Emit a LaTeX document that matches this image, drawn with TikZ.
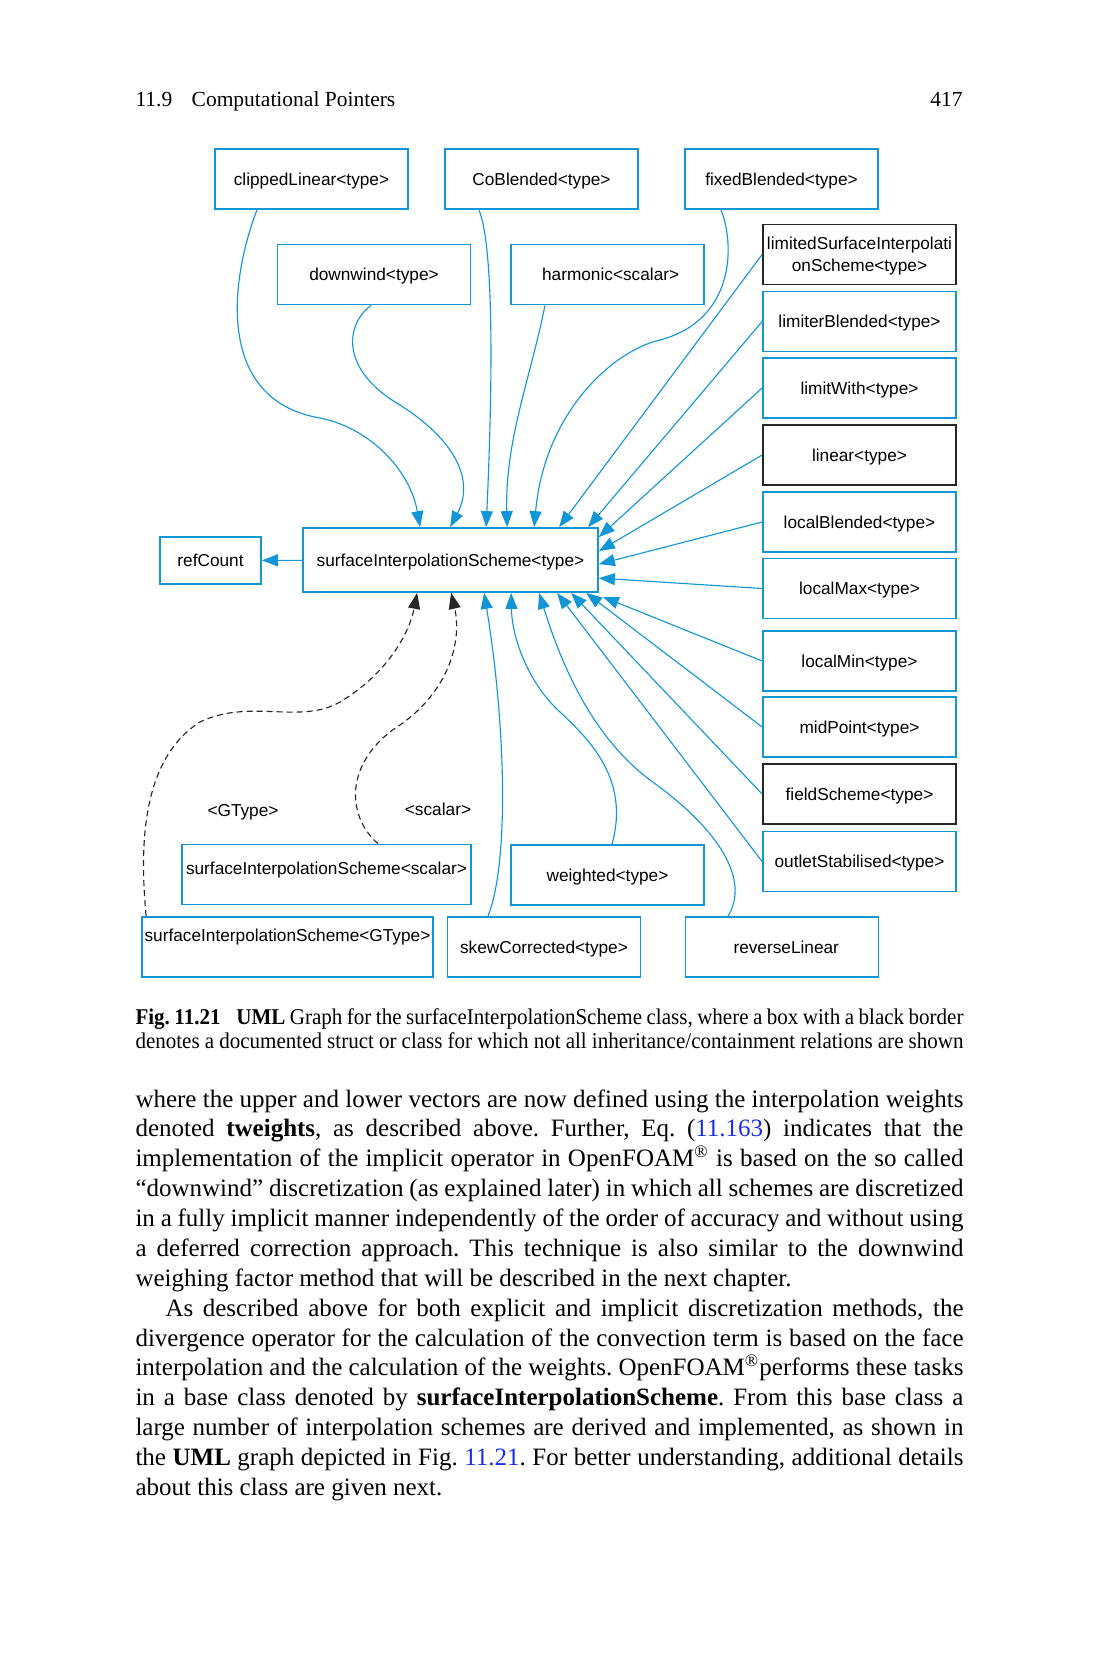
\documentclass[tikz,border=0pt]{standalone}
\usepackage{fontspec}
\setmainfont{Liberation Serif}
\newfontfamily\umlfont{Liberation Sans}
\newfontfamily\capfont[FakeStretch=0.935]{Liberation Serif}
\usepackage{tikz}
\usetikzlibrary{arrows.meta,calc}
\definecolor{docblue}{RGB}{18,150,214}
\definecolor{linkblue}{RGB}{25,45,235}
\frenchspacing

\begin{document}
\begin{tikzpicture}[x=0.4pt, y=-0.4pt, every node/.style={inner sep=0pt},
    umlbox/.style={draw=docblue, line width=0.7pt, fill=white, align=center,
        font={\umlfont\fontsize{6.9}{8.8}\selectfont}, text depth=0pt,
        minimum width=77.2pt, minimum height=24pt},
    docbox/.style={umlbox, draw=black!85},
    inherit/.style={docblue, line width=0.45pt, -{Triangle[length=6.4pt, width=4.8pt]}},
    usage/.style={black!85, line width=0.45pt, dash pattern=on 2.4pt off 1.6pt,
        -{Triangle[length=6.4pt, width=4.8pt]}}]
    \fill[white] (0,0) rectangle (1099,1666);
    \path[use as bounding box] (0,0) rectangle (1099,1666);

    % Running head
    \node[anchor=base west, font=\fontsize{8.6}{11}\selectfont] (runhead) at (135,106) {11.9\hspace{0.9em}Computational Pointers};
    \node[anchor=base east, font=\fontsize{8.6}{11}\selectfont] (pageno) at (963,106) {417};

    % Top row
    \node[umlbox] (clipped) at (311.5,179) {clippedLinear<type>};
    \node[umlbox] (coblended) at (541.5,179) {CoBlended<type>};
    \node[umlbox] (fixed) at (781.5,179) {fixedBlended<type>};
    \node[umlbox] (downwind) at (374,274.5) {downwind<type>};
    \node[umlbox] (harmonic) at (607.5,274.5) {\hspace*{2.5pt}harmonic<scalar>};

    % Right column
    \node[docbox, text depth=-1.2pt] (limited) at (859.5,254.5) {limitedSurfaceInterpolati\\onScheme<type>};
    \node[umlbox] (limiter) at (859.5,321.5) {limiterBlended<type>};
    \node[umlbox] (limitwith) at (859.5,388) {limitWith<type>};
    \node[docbox] (linear) at (859.5,455) {linear<type>};
    \node[umlbox] (localblended) at (859.5,522) {localBlended<type>};
    \node[umlbox] (localmax) at (859.5,588.5) {localMax<type>};
    \node[umlbox] (localmin) at (859.5,661) {localMin<type>};
    \node[umlbox] (midpoint) at (859.5,727) {midPoint<type>};
    \node[docbox] (fieldscheme) at (859.5,794) {fieldScheme<type>};
    \node[umlbox] (outlet) at (859.5,861.5) {outletStabilised<type>};

    % Base class
    \node[umlbox, minimum width=118pt, minimum height=25.6pt] (scheme) at (450.5,560) {surfaceInterpolationScheme<type>};
    \node[umlbox, minimum width=40.4pt, minimum height=18.8pt] (refcount) at (210.5,560.5) {refCount};

    % Bottom rows
    \node[umlbox, minimum width=115.6pt] (sclr) at (326.5,874.5) {\raisebox{5pt}{surfaceInterpolationScheme<scalar>}};
    \node[umlbox] (weighted) at (607.5,875) {weighted<type>};
    \node[umlbox, minimum width=116.4pt] (gtype) at (287.5,947) {\raisebox{9.5pt}{surfaceInterpolationScheme<GType>}};
    \node[umlbox] (skew) at (544,947) {skewCorrected<type>};
    \node[umlbox] (reverse) at (782,947) {\hspace*{3.4pt}reverseLinear};

    % Template labels
    \node[font={\umlfont\fontsize{6.9}{8.8}\selectfont}] (glabel) at (243,812) {<GType>};
    \node[font={\umlfont\fontsize{6.9}{8.8}\selectfont}] (slabel) at (438,809) {<scalar>};

    % Inheritance from above
    \draw[inherit] ($(clipped.south)+(-54.5,0)$) .. controls (230,280) and (215,400) .. (320,418)
        .. controls (370,428) and (410,470) .. ($(scheme.north west)+(118,0)$);
    \draw[inherit] ($(downwind.south)+(-3,0)$) .. controls (345,325) and (340,370) .. (400,405)
        .. controls (455,440) and (475,480) .. ($(scheme.north west)+(148,0)$);
    \draw[inherit] ($(coblended.south)+(-62.5,0)$) .. controls (495,250) and (492,400) .. ($(scheme.north west)+(184,0)$);
    \draw[inherit] ($(harmonic.south)+(-62.5,0)$) .. controls (530,380) and (505,440) .. ($(scheme.north west)+(205,0)$);
    \draw[inherit] ($(fixed.south)+(-60.5,0)$) .. controls (735,245) and (735,320) .. (660,340)
        .. controls (615,350) and (545,410) .. ($(scheme.north west)+(232,0)$);

    % Inheritance from the right
    \draw[inherit] (limited.west) -- ($(scheme.north west)+(257,0)$);
    \draw[inherit] (limiter.west) -- ($(scheme.north west)+(286,0)$);
    \draw[inherit] (limitwith.west) -- ($(scheme.north east)+(0,10)$);
    \draw[inherit] (linear.west) -- ($(scheme.north east)+(0,24)$);
    \draw[inherit] (localblended.west) -- ($(scheme.north east)+(0,37)$);
    \draw[inherit] (localmax.west) -- ($(scheme.north east)+(0,51)$);
    \draw[inherit] (localmin.west) -- ($(scheme.south east)+(4,4)$);
    \draw[inherit] (midpoint.west) -- ($(scheme.south west)+(284,0)$);
    \draw[inherit] (fieldscheme.west) -- ($(scheme.south west)+(269,0)$);
    \draw[inherit] (outlet.west) -- ($(scheme.south west)+(255,0)$);

    % Inheritance from below
    \draw[inherit] ($(skew.north)+(-56,0)$) .. controls (510,860) and (505,720) .. ($(scheme.south west)+(182,0)$);
    \draw[inherit] ($(weighted.north)+(4.5,0)$) .. controls (630,780) and (590,740) .. (560,712)
        .. controls (530,685) and (512,640) .. ($(scheme.south west)+(209,0)$);
    \draw[inherit] ($(reverse.north)+(-54,0)$) .. controls (750,880) and (720,830) .. (650,780)
        .. controls (590,735) and (560,660) .. ($(scheme.south west)+(237,0)$);

    % Template instances
    \draw[usage] ($(gtype.north west)+(5,0)$) .. controls (140,850) and (140,760) .. (200,722)
        .. controls (250,698) and (300,725) .. (340,702)
        .. controls (390,672) and (410,630) .. ($(scheme.south west)+(115,0)$);
    \draw[usage] ($(sclr.north)+(51.5,0)$) .. controls (345,815) and (345,760) .. (400,725)
        .. controls (450,690) and (462,640) .. ($(scheme.south west)+(149,0)$);

    % Member
    \draw[inherit] (scheme) -- (refcount);

    % Caption
    \node[anchor=north west, text width=331.2pt, align=justify, font={\capfont\fontsize{9}{9.8}\selectfont}] (caption) at (135,1008)
        {\parfillskip=0pt \textbf{Fig. 11.21}\hspace{0.7em}\textbf{UML} Graph for the surfaceInterpolationScheme class, where a box with a black border\linebreak
        denotes a documented struct or class for which not all inheritance/containment relations are shown};

    % Body text
    \node[anchor=north west, text width=331.2pt, align=justify, font=\fontsize{10}{11.95}\selectfont] (bodytext) at (135,1089)
        {where the upper and lower vectors are now defined using the interpolation weights\linebreak
        denoted \textbf{tweights}, as described above. Further, Eq. (\textcolor{linkblue}{11.163}) indicates that the\linebreak
        implementation of the implicit operator in OpenFOAM\textsuperscript{\textregistered} is based on the so called\linebreak
        ``downwind'' discretization (as explained later) in which all schemes are discretized\linebreak
        in a fully implicit manner independently of the order of accuracy and without using\linebreak
        a deferred correction approach. This technique is also similar to the downwind\linebreak
        weighing factor method that will be described in the next chapter.\par
        \hspace*{12pt}As described above for both explicit and implicit discretization methods, the\linebreak
        divergence operator for the calculation of the convection term is based on the face\linebreak
        interpolation and the calculation of the weights. OpenFOAM\textsuperscript{\textregistered}performs these tasks\linebreak
        in a base class denoted by \textbf{surfaceInterpolationScheme}. From this base class a\linebreak
        large number of interpolation schemes are derived and implemented, as shown in\linebreak
        the \textbf{UML} graph depicted in Fig. \textcolor{linkblue}{11.21}. For better understanding, additional details\linebreak
        about this class are given next.};
\end{tikzpicture}
\end{document}
